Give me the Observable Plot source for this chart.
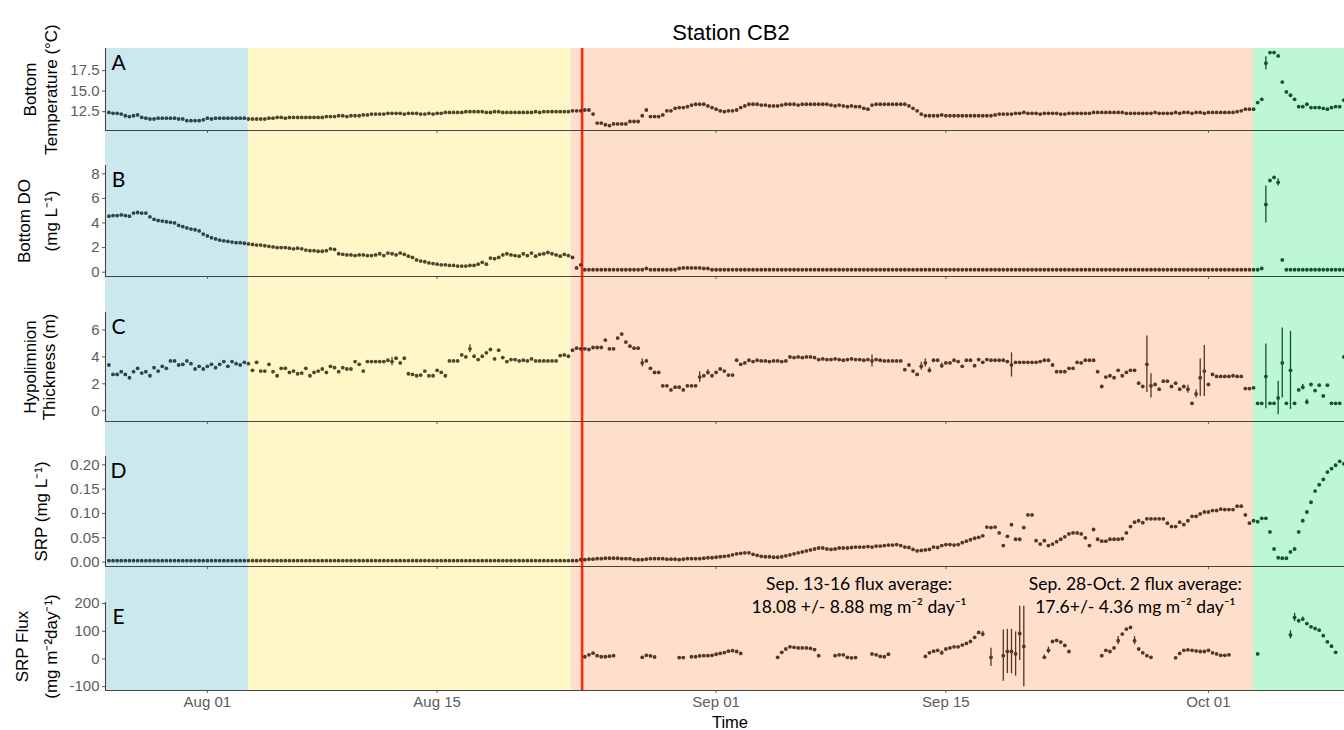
<!DOCTYPE html>
<html><head><meta charset="utf-8">
<script src="https://cdn.jsdelivr.net/npm/d3@7"></script>
<script src="https://cdn.jsdelivr.net/npm/@observablehq/plot@0.6"></script>
<style>
body{margin:0;background:#fff;}
#wrap{position:relative;width:1344px;height:730px;overflow:hidden;background:#fff;}
#wrap > svg{position:absolute;left:0;}
</style></head>
<body><div id="wrap"></div>
<script>
// ---------- sampling: one sample every 6 h starting Jul 26 00:00 ----------
const sampleStart = "2021-07-26T00:00:00Z";
const sampleStepHours = 6;

// ---------- periods (background shading) ----------
const periodStart = ["2021-07-25T00:00Z","2021-08-03T12:00Z","2021-08-23T04:00Z","2021-10-03T18:00Z"];
const periodEnd   = ["2021-08-03T12:00Z","2021-08-23T04:00Z","2021-10-03T18:00Z","2021-10-15T00:00Z"];
const periodFill  = ["#CBE8EE","#FEF8C8","#FDDFCC","#BDF7D3"];
const periodPoint = ["#27474d","#4d4628","#5a3326","#145230"];
const redLineDate = "2021-08-23T20:00Z";

const xTickDates = ["2021-08-01","2021-08-15","2021-09-01","2021-09-15","2021-10-01"];

// ---------- A: bottom temperature (°C) ----------
const tempVals = [
12.4,12.3,12.3,12.2,12.0,11.9,12.0,12.1,11.8,11.7,
11.6,11.6,11.7,11.7,11.7,11.7,11.7,11.6,11.6,11.4,
11.4,11.4,11.4,11.5,11.7,11.6,11.7,11.7,11.7,11.7,
11.7,11.7,11.7,11.7,11.6,11.6,11.6,11.6,11.6,11.7,
11.7,11.8,11.8,11.7,11.8,11.8,11.8,11.8,11.8,11.8,
11.8,11.8,11.8,11.9,11.9,11.9,12.0,12.0,11.9,12.0,
12.0,12.0,12.1,12.1,12.2,12.2,12.2,12.2,12.3,12.3,
12.3,12.3,12.2,12.3,12.3,12.3,12.2,12.2,12.3,12.2,
12.3,12.3,12.4,12.4,12.4,12.4,12.4,12.5,12.5,12.5,
12.5,12.5,12.4,12.4,12.5,12.5,12.4,12.4,12.4,12.4,
12.4,12.4,12.4,12.4,12.5,12.4,12.5,12.5,12.5,12.5,
12.5,12.5,12.5,12.6,12.6,12.6,12.7,12.7,12.2,11.1,
11.1,10.9,10.8,11.0,11.0,11.0,11.0,11.3,11.3,11.3,
12.0,12.7,11.9,11.9,11.9,12.1,12.6,12.6,12.9,13.0,
13.0,13.1,13.3,13.4,13.4,13.4,13.2,13.0,12.8,12.6,
12.5,12.6,12.6,12.7,13.0,13.2,13.4,13.4,13.4,13.3,
13.3,13.2,13.2,13.2,13.3,13.4,13.4,13.4,13.3,13.4,
13.4,13.4,13.4,13.4,13.4,13.4,13.3,13.2,13.3,13.2,
13.1,13.2,13.1,13.1,12.9,12.8,13.3,13.4,13.4,13.4,
13.4,13.4,13.4,13.4,13.4,13.2,12.9,12.6,12.2,12.0,
12.0,12.0,12.0,12.1,12.0,12.0,12.0,12.0,12.0,12.0,
12.0,12.0,12.0,12.0,12.0,12.0,12.1,12.2,12.2,12.2,
12.2,12.3,12.3,12.4,12.3,12.3,12.3,12.2,12.3,12.3,
12.3,12.3,12.2,12.2,12.3,12.3,12.3,12.3,12.3,12.3,
12.4,12.4,12.4,12.4,12.4,12.4,12.4,12.4,12.3,12.3,
12.3,12.3,12.3,12.3,12.3,12.4,12.3,12.3,12.3,12.3,
12.4,12.3,12.4,12.4,12.3,12.4,12.4,12.3,12.4,12.4,
12.4,12.4,12.4,12.4,12.4,12.5,12.6,12.8,12.8,12.8,
13.6,14.0,18.4,19.7,19.7,19.3,16.1,14.9,14.5,14.0,
13.1,13.1,13.4,13.0,13.0,13.0,12.9,12.8,13.0,13.1,
13.1,13.9];
const tempErrIdx = [282];
const tempErrVal = [0.8];

// ---------- B: bottom DO (mg/L) ----------
const doVals = [
4.55,4.6,4.6,4.65,4.6,4.55,4.8,4.85,4.8,4.8,
4.5,4.3,4.2,4.15,4.1,4.05,4.0,3.8,3.7,3.6,
3.5,3.45,3.35,3.1,2.95,2.8,2.7,2.6,2.55,2.5,
2.45,2.4,2.4,2.35,2.3,2.25,2.2,2.2,2.15,2.1,
2.05,2.0,2.0,2.0,1.95,1.9,1.95,1.9,1.8,1.75,
1.75,1.7,1.7,1.75,1.9,1.85,1.5,1.45,1.4,1.4,
1.35,1.4,1.4,1.35,1.35,1.4,1.5,1.35,1.55,1.5,
1.4,1.55,1.45,1.3,1.2,1.0,0.9,0.85,0.75,0.7,
0.65,0.6,0.6,0.55,0.55,0.5,0.5,0.5,0.55,0.55,
0.65,0.8,0.65,1.15,1.1,1.2,1.4,1.5,1.4,1.35,
1.3,1.5,1.35,1.55,1.3,1.45,1.5,1.6,1.5,1.4,
1.3,1.45,1.35,1.2,0.35,0.6,0.2,0.2,0.2,0.2,
0.2,0.2,0.2,0.2,0.2,0.2,0.2,0.2,0.2,0.2,
0.2,0.3,0.2,0.2,0.2,0.2,0.2,0.2,0.2,0.3,
0.35,0.35,0.35,0.35,0.35,0.3,0.3,0.2,0.2,0.2,
0.2,0.2,0.2,0.2,0.2,0.2,0.2,0.2,0.2,0.2,
0.2,0.2,0.2,0.2,0.2,0.2,0.2,0.2,0.2,0.2,
0.2,0.2,0.2,0.2,0.2,0.2,0.2,0.2,0.2,0.2,
0.2,0.2,0.2,0.2,0.2,0.2,0.2,0.2,0.2,0.2,
0.2,0.2,0.2,0.2,0.2,0.2,0.2,0.2,0.2,0.2,
0.2,0.2,0.2,0.2,0.2,0.2,0.2,0.2,0.2,0.2,
0.2,0.2,0.2,0.2,0.2,0.2,0.2,0.2,0.2,0.2,
0.2,0.2,0.2,0.2,0.2,0.2,0.2,0.2,0.2,0.2,
0.2,0.2,0.2,0.2,0.2,0.2,0.2,0.2,0.2,0.2,
0.2,0.2,0.2,0.2,0.2,0.2,0.2,0.2,0.2,0.2,
0.2,0.2,0.2,0.2,0.2,0.2,0.2,0.2,0.2,0.2,
0.2,0.2,0.2,0.2,0.2,0.2,0.2,0.2,0.2,0.2,
0.2,0.2,0.2,0.2,0.2,0.2,0.2,0.2,0.2,0.2,
0.2,0.3,5.5,7.45,7.7,7.3,1.0,0.2,0.2,0.2,
0.2,0.2,0.2,0.2,0.2,0.2,0.2,0.2,0.2,0.2,
0.2,0.2];
const doErrIdx = [282,285];
const doErrVal = [1.5,0.3];

// ---------- C: hypolimnion thickness (m) ----------
const thickVals = [
3.4,2.7,2.7,2.9,2.7,2.45,2.9,3.15,2.8,2.9,
2.6,3.2,2.95,3.3,3.15,3.7,3.7,3.4,3.45,3.7,
3.5,3.1,3.3,3.1,3.3,3.45,3.2,3.45,3.65,3.3,
3.65,3.5,3.4,3.6,3.5,3.0,3.6,2.95,2.95,3.45,
2.9,2.6,3.15,3.15,2.85,2.95,2.75,2.8,3.15,2.6,
2.85,2.95,3.1,2.85,3.3,3.2,2.9,3.2,3.1,3.1,
3.65,3.45,2.95,3.65,3.65,3.65,3.65,3.65,3.75,3.65,
3.9,3.55,3.9,2.75,2.7,2.6,2.65,2.95,2.6,2.6,
3.0,2.85,2.6,3.7,3.7,3.7,4.15,4.0,4.6,4.05,
3.8,4.05,4.3,4.55,3.85,4.5,3.95,3.65,3.8,3.8,
3.7,3.75,3.7,3.85,3.7,3.7,3.7,3.7,3.7,3.7,
4.1,4.15,4.05,4.5,4.65,4.6,4.6,4.55,4.7,4.7,
4.7,5.25,4.6,4.6,5.4,5.7,5.1,4.8,4.65,4.65,
3.55,3.7,3.15,2.85,2.85,1.85,1.85,1.55,1.75,1.75,
1.55,1.85,1.85,1.85,2.5,2.6,2.85,2.6,2.85,3.1,
2.95,2.65,2.65,3.75,3.45,3.55,3.75,3.65,3.75,3.7,
3.7,3.65,3.7,3.7,3.65,3.7,4.0,3.95,4.0,3.95,
4.0,4.0,3.95,3.8,3.85,3.8,3.8,3.85,3.8,3.75,
3.8,3.85,3.8,3.8,3.75,3.8,3.7,3.8,3.75,3.7,
3.7,3.7,3.7,3.7,3.05,3.4,2.95,2.7,3.3,3.55,
3.0,3.75,3.75,3.35,3.55,3.55,3.75,3.65,3.3,3.75,
3.75,3.35,3.8,3.6,3.8,3.75,3.75,3.75,3.75,3.65,
3.4,3.6,3.6,3.6,3.6,3.6,3.6,3.65,3.75,3.75,
3.4,2.9,2.9,2.9,3.15,3.15,3.6,3.55,3.75,3.75,
3.75,2.9,1.8,2.5,2.6,2.45,3.0,2.6,2.85,3.0,
3.0,2.05,1.8,3.45,1.85,1.95,1.6,2.2,2.2,1.8,
2.05,1.6,1.8,1.6,0.55,1.25,2.45,2.95,1.95,2.7,
2.55,2.55,2.55,2.55,2.6,2.55,2.55,1.65,1.65,1.7,
0.55,0.55,2.55,0.55,0.55,0.95,3.55,0.55,3.0,0.55,
1.55,1.75,0.65,1.95,1.5,1.9,1.1,1.9,0.55,0.55,
0.55,4.0];
const thickErrIdx = [69,88,130,144,146,186,198,199,200,203,220,253,254,263,265,266,267,282,285,286,288,291,292];
const thickErrVal = [0.3,0.3,0.3,0.4,0.2,0.45,0.3,0.3,0.2,0.2,0.9,2.1,0.9,0.3,0.3,1.4,1.9,2.4,1.25,2.6,2.9,0.2,0.2];

// ---------- D: SRP (mg/L) ----------
const srpVals = [
0.003,0.003,0.003,0.003,0.003,0.003,0.003,0.003,0.003,0.003,
0.003,0.003,0.003,0.003,0.003,0.003,0.003,0.003,0.003,0.003,
0.003,0.003,0.003,0.003,0.003,0.003,0.003,0.003,0.003,0.003,
0.003,0.003,0.003,0.003,0.003,0.003,0.003,0.003,0.003,0.003,
0.003,0.003,0.003,0.003,0.003,0.003,0.003,0.003,0.003,0.003,
0.003,0.003,0.003,0.003,0.003,0.003,0.003,0.003,0.003,0.003,
0.003,0.003,0.003,0.003,0.003,0.003,0.003,0.003,0.003,0.003,
0.003,0.003,0.003,0.003,0.003,0.003,0.003,0.003,0.003,0.003,
0.003,0.003,0.003,0.003,0.003,0.003,0.003,0.003,0.003,0.003,
0.003,0.003,0.003,0.003,0.003,0.003,0.003,0.003,0.003,0.003,
0.003,0.003,0.003,0.003,0.003,0.003,0.003,0.003,0.003,0.003,
0.003,0.003,0.003,0.003,0.003,
0.005,0.005,0.006,0.006,0.007,0.007,0.008,0.008,0.008,0.008,
0.007,0.007,0.007,0.005,0.005,0.005,0.006,0.007,0.007,0.007,
0.007,0.006,0.006,0.006,0.005,0.006,0.007,0.007,0.007,0.007,
0.008,0.009,0.009,0.010,0.011,0.012,0.013,0.015,0.017,0.018,
0.019,0.019,0.016,0.014,0.012,0.011,0.011,0.010,0.010,0.011,
0.013,0.015,0.017,0.019,0.021,0.023,0.025,0.027,0.029,0.029,
0.027,0.026,0.027,0.029,0.029,0.029,0.030,0.031,0.031,0.031,
0.032,0.031,0.033,0.033,0.034,0.035,0.035,0.036,0.034,0.031,
0.030,0.026,0.023,0.024,0.025,0.026,0.031,0.030,0.034,0.036,
0.036,0.035,0.036,0.040,0.043,0.046,0.049,0.051,0.054,0.072,
0.071,0.072,0.060,0.034,0.053,0.077,0.047,0.047,0.071,0.097,
0.097,0.044,0.037,0.044,0.034,0.037,0.042,0.047,0.052,0.058,
0.060,0.060,0.058,0.050,0.034,0.067,0.047,0.043,0.043,0.047,
0.047,0.047,0.048,0.060,0.073,0.082,0.085,0.081,0.089,0.089,
0.089,0.089,0.089,0.080,0.073,0.073,0.082,0.077,0.085,0.094,
0.094,0.099,0.103,0.103,0.106,0.106,0.109,0.108,0.108,0.108,
0.115,0.115,0.097,0.080,0.085,0.083,0.090,0.090,0.062,0.027,
0.009,0.008,0.008,0.021,0.027,0.062,0.085,0.103,0.123,0.146,
0.159,0.170,0.185,0.192,0.199,0.207,0.202];

// ---------- E: SRP flux (mg m-2 day-1), only at some samples ----------
const fluxIdx = [116,117,118,119,120,121,122,123,
130,131,132,133,
139,140,
142,143,144,145,146,147,148,149,150,151,152,153,154,
163,164,165,166,167,168,169,170,171,172,173,
177,178,179,180,181,182,
186,187,188,189,190,
199,200,201,202,203,204,205,206,207,208,209,210,211,212,213,
215,
218,219,220,221,222,223,
228,229,230,231,232,233,234,
242,243,244,245,246,247,248,249,250,251,252,253,254,
260,261,262,263,264,265,266,267,268,269,270,271,272,273,
280,
288,289,290,291,292,293,294,295,296,297,298,299];
const fluxVals = [8,15,21,12,8,8,10,12,
6,13,11,7,
5,5,
8,8,11,12,12,13,17,20,23,28,30,27,20,
6,24,36,44,42,40,40,40,38,34,12,
12,15,15,6,4,5,
18,15,9,8,17,
9,22,28,31,22,36,40,44,44,50,56,63,78,96,90,
6,
12,27,27,18,92,45,
6,31,63,67,61,49,27,
12,31,27,40,66,90,108,114,66,36,22,12,6,
4,20,31,33,31,29,27,27,31,22,18,13,13,15,
18,
87,150,138,144,128,116,110,104,84,62,46,24];
const fluxErrIdx = [203,213,215,218,219,220,221,222,223,228,229,246,250,288,289,291];
const fluxErrVal = [8,10,33,93,80,80,80,98,145,8,12,15,15,15,15,8];

// ---------- annotations ----------
const annDates = ["2021-09-09T17:00Z","2021-09-26T13:00Z"];
const annLine1 = ["Sep. 13-16 flux average:","Sep. 28-Oct. 2 flux average:"];
const annLine2 = ["18.08 +/- 8.88 mg m\u207B\u00B2 day\u207B\u00B9","17.6+/- 4.36 mg m\u207B\u00B2 day\u207B\u00B9"];

// =================== drawing ===================
const wrap = document.getElementById("wrap");
const t0 = new Date(sampleStart).getTime();
const step = sampleStepHours * 3600 * 1000;
const xDomain = [new Date("2021-07-25T19:00Z"), new Date("2021-10-09T07:00Z")];
const pStart = periodStart.map(d => new Date(d));
const pEnd = periodEnd.map(d => new Date(d));
const colorOf = t => { let k = 0; for (let j = 0; j < pStart.length; j++) if (t >= pStart[j]) k = j; return periodPoint[k]; };
const axisColor = "#444";
const SANS = '"Liberation Sans", Arial, sans-serif';
const LATO = 'Lato, "Open Sans", sans-serif';

function rowsOf(idx, vals, errIdx, errVal) {
  const em = new Map(errIdx.map((k, j) => [k, errVal[j]]));
  return vals.map((v, j) => {
    const i = idx ? idx[j] : j;
    const t = new Date(t0 + i * step);
    return {t, v, e: em.get(i) || 0, c: colorOf(t)};
  });
}

// background shading + red line
const bgRows = periodFill.map((f, j) => ({s: pStart[j], e: pEnd[j], f}));
const bg = Plot.plot({
  width: 1344, height: 642, marginLeft: 105, marginRight: 0, marginTop: 0, marginBottom: 0,
  style: {background: "transparent", overflow: "visible"},
  x: {type: "utc", domain: xDomain, axis: null},
  color: {type: "identity"},
  marks: [
    Plot.rect(bgRows, {x1: "s", x2: "e", fill: "f", clip: true}),
    Plot.ruleX([new Date(redLineDate)], {stroke: "#ff2a0a", strokeWidth: 2.6})
  ]
});
bg.style.top = "48px";
wrap.appendChild(bg);

const xFmt = d3.utcFormat("%b %d");
function panel(o) {
  const data = o.rows;
  const withErr = data.filter(d => d.e > 0);
  const marks = [
    Plot.ruleX(withErr, {x: "t", y1: d => d.v - d.e, y2: d => d.v + d.e, stroke: "c", strokeWidth: 1.3}),
    Plot.dot(data, {x: "t", y: "v", r: 1.9, fill: "c"}),
    Plot.ruleX([xDomain[0]], {stroke: axisColor, strokeWidth: 1.1}),
    Plot.ruleY([o.yDomain[0]], {stroke: axisColor, strokeWidth: 1.1}),
    Plot.text([o.letter], {frameAnchor: "top-left", dx: 13, dy: 15, fontSize: 21, fontFamily: LATO, fill: "#000", textAnchor: "middle", lineAnchor: "middle"}),
    ...o.titles.map(tt => Plot.text([tt.text], {frameAnchor: "left", dx: tt.x - 105, rotate: -90, fontSize: 17, fontFamily: SANS, fill: "#000", textAnchor: "middle", lineAnchor: "middle"})),
    ...(o.extra || [])
  ];
  const svg = Plot.plot({
    width: 1344, height: o.mt + o.frameH + o.mb,
    marginLeft: 105, marginRight: 0, marginTop: o.mt, marginBottom: o.mb,
    style: {background: "transparent", overflow: "visible", fontFamily: SANS, fontSize: "15px", color: "#5c5c5c"},
    x: {type: "utc", domain: xDomain, ticks: xTickDates.map(d => new Date(d + "T00:00Z")), tickFormat: o.showX ? xFmt : () => "", tickSize: 3, tickPadding: 3, label: null},
    y: {domain: o.yDomain, ticks: o.yTicks, tickFormat: o.yFmt, tickSize: 3, tickPadding: 3, label: null},
    color: {type: "identity"},
    marks
  });
  svg.style.top = (o.top - o.mt) + "px";
  wrap.appendChild(svg);
}

panel({
  rows: rowsOf(null, tempVals, tempErrIdx, tempErrVal),
  top: 48, mt: 48, frameH: 82, mb: 30,
  yDomain: [10.2, 20.2], yTicks: [12.5, 15, 17.5], yFmt: d => d.toFixed(1),
  letter: "A", titles: [{text: "Bottom", x: 30}, {text: "Temperature (\u00B0C)", x: 51}],
  extra: [Plot.text(["Station CB2"], {frameAnchor: "top", dx: 6, dy: -16, fontSize: 22, fontFamily: SANS, fill: "#000", lineAnchor: "middle"})]
});
panel({
  rows: rowsOf(null, doVals, doErrIdx, doErrVal),
  top: 165, mt: 10, frameH: 111, mb: 10,
  yDomain: [-0.35, 8.67], yTicks: [0, 2, 4, 6, 8], yFmt: d => String(d),
  letter: "B", titles: [{text: "Bottom DO", x: 24}, {text: "(mg L\u207B\u00B9)", x: 51}]
});
panel({
  rows: rowsOf(null, thickVals, thickErrIdx, thickErrVal),
  top: 311.7, mt: 10, frameH: 109, mb: 10,
  yDomain: [-0.8, 7.3], yTicks: [0, 2, 4, 6], yFmt: d => String(d),
  letter: "C", titles: [{text: "Hypolimnion", x: 30}, {text: "Thickness (m)", x: 49}]
});
panel({
  rows: rowsOf(null, srpVals, [], []),
  top: 456, mt: 10, frameH: 110, mb: 10,
  yDomain: [-0.009, 0.217], yTicks: [0, 0.05, 0.1, 0.15, 0.2], yFmt: d => d.toFixed(2),
  letter: "D", titles: [{text: "SRP (mg L\u207B\u00B9)", x: 41}]
});
const annRows = annDates.map((d, j) => ({x: new Date(d), a: annLine1[j], b: annLine2[j]}));
panel({
  rows: rowsOf(fluxIdx, fluxVals, fluxErrIdx, fluxErrVal),
  top: 602, mt: 40, frameH: 88, mb: 40, showX: true,
  yDomain: [-114, 204], yTicks: [-100, 0, 100, 200], yFmt: d => String(d),
  letter: "E", titles: [{text: "SRP Flux", x: 22}, {text: "(mg m\u207B\u00B2day\u207B\u00B9)", x: 51}],
  extra: [
    Plot.text(annRows, {x: "x", text: "a", frameAnchor: "top", dy: -18, fontSize: 17.5, fontFamily: LATO, fill: "#000", lineAnchor: "middle"}),
    Plot.text(annRows, {x: "x", text: "b", frameAnchor: "top", dy: 5, fontSize: 17.5, fontFamily: LATO, fill: "#000", lineAnchor: "middle"}),
    Plot.text(["Time"], {frameAnchor: "bottom", dx: 5, dy: 32, fontSize: 16.5, fontFamily: SANS, fill: "#000", lineAnchor: "middle"})
  ]
});
</script>
</body></html>
